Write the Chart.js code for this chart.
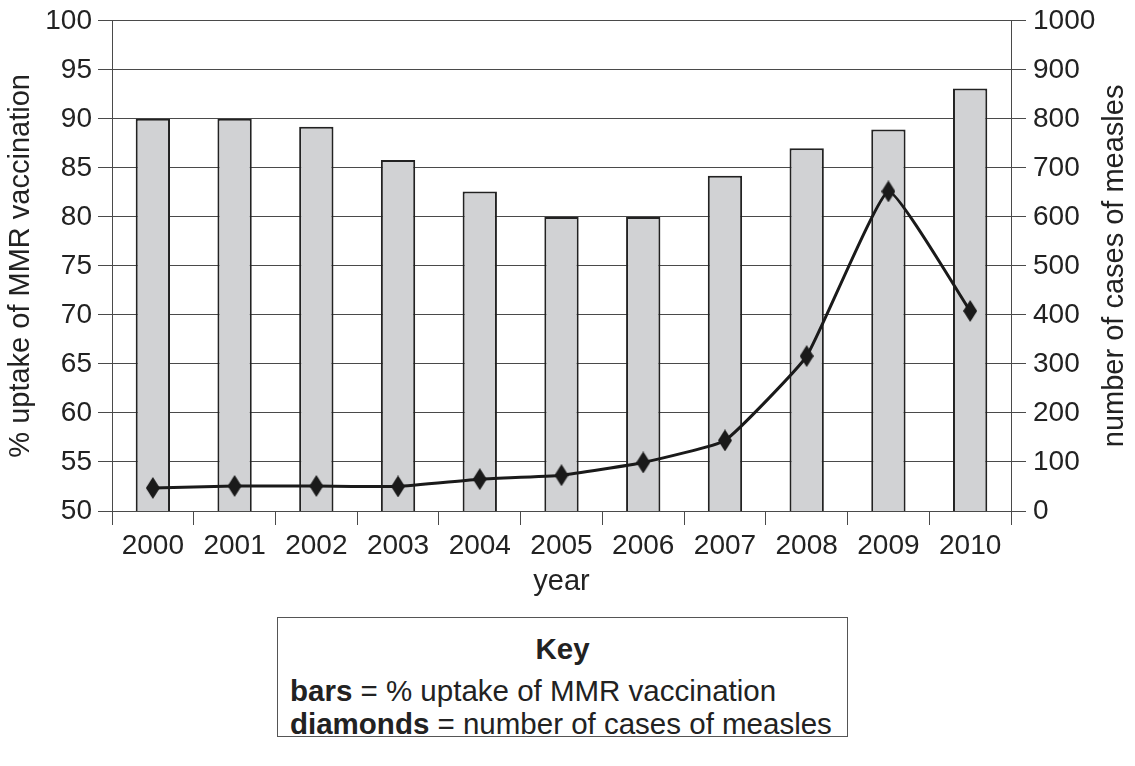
<!DOCTYPE html>
<html>
<head>
<meta charset="utf-8">
<script src="https://cdn.jsdelivr.net/npm/chart.js@4.4.0/dist/chart.umd.min.js"></script>
<style>
  body { margin: 0; background: #fff; font-family: "Liberation Sans", Arial, sans-serif; color: #222; }
  #wrap { position: absolute; left: 0; top: -3px; width: 1135px; height: 603px; }
  #key { position: absolute; left: 277px; top: 617px; width: 571px; height: 120px;
         border: 1px solid #555; box-sizing: border-box; font-size: 29.5px; line-height: 33px; padding: 14px 0 0 12px; }
  #key .t { text-align: center; font-weight: bold; margin-left: -12px; margin-bottom: 9px; }
</style>
</head>
<body>
<div id="wrap"><canvas id="grafica"></canvas></div>
<div id="key">
  <div class="t">Key</div>
  <div><b>bars</b> = % uptake of MMR vaccination</div>
  <div><b>diamonds</b> = number of cases of measles</div>
</div>
<script>
const years = ['2000', '2001', '2002', '2003', '2004', '2005', '2006', '2007', '2008', '2009', '2010'];
const uptake = [90, 90, 89.2, 85.8, 82.6, 80, 80, 84.2, 87, 88.9, 93.1];
const measles = [47, 51, 51, 50, 65, 73, 99, 144, 316, 652, 408];

const fuente = { family: '"Liberation Sans", Arial, sans-serif', size: 28 };
const fuenteTitulo = { family: '"Liberation Sans", Arial, sans-serif', size: 29 };
const gris = '#4a4a4a';

// diamante alto para los puntos
const rombo = document.createElement('canvas');
rombo.width = 14; rombo.height = 22;
const rc = rombo.getContext('2d');
rc.fillStyle = '#1a1a1a';
rc.beginPath();
rc.moveTo(7, 0); rc.lineTo(14, 11); rc.lineTo(7, 22); rc.lineTo(0, 11);
rc.closePath();
rc.fill();

// titulo del eje derecho, leido de abajo hacia arriba
const tituloDerecho = {
  id: 'tituloDerecho',
  afterDraw(chart) {
    const ctx = chart.ctx;
    const area = chart.chartArea;
    ctx.save();
    ctx.translate(1123, (area.top + area.bottom) / 2);
    ctx.rotate(-Math.PI / 2);
    ctx.font = '29px "Liberation Sans", Arial, sans-serif';
    ctx.fillStyle = '#222';
    ctx.textAlign = 'center';
    ctx.textBaseline = 'alphabetic';
    ctx.fillText('number of cases of measles', 0, 0);
    ctx.restore();
  }
};

new Chart(document.getElementById('grafica'), {
  data: {
    labels: years,
    datasets: [{
      type: 'line',
      label: 'number of cases of measles',
      data: measles,
      yAxisID: 'y1',
      borderColor: '#1a1a1a',
      borderWidth: 3,
      tension: 0.12,
      pointStyle: rombo,
      order: 0
    }, {
      type: 'bar',
      label: '% uptake of MMR vaccination',
      data: uptake,
      yAxisID: 'y',
      backgroundColor: '#d1d2d4',
      borderColor: '#222',
      borderWidth: 2,
      barPercentage: 0.42,
      categoryPercentage: 1,
      order: 1
    }]
  },
  options: {
    responsive: true,
    maintainAspectRatio: false,
    animation: false,
    layout: { padding: { top: 16, left: 0, right: 0, bottom: 0 } },
    plugins: { legend: { display: false }, tooltip: { enabled: false } },
    scales: {
      x: {
        afterFit: s => { s.height = 89; },
        grid: { offset: true, drawOnChartArea: false, color: gris, tickLength: 14 },
        border: { color: gris },
        ticks: { font: fuente, color: '#222', padding: 4, maxRotation: 0 },
        title: { display: true, text: 'year', font: fuenteTitulo, color: '#222', padding: { top: 0, bottom: 1 } }
      },
      y: {
        position: 'left',
        min: 50, max: 100,
        afterFit: s => { s.width = 112; },
        grid: { color: gris, tickLength: 14 },
        border: { color: gris },
        ticks: { stepSize: 5, font: fuente, color: '#222', padding: 6 },
        title: { display: true, text: '% uptake of MMR vaccination', font: fuenteTitulo, color: '#222', padding: { top: 4, bottom: 0 } }
      },
      y1: {
        position: 'right',
        min: 0, max: 1000,
        afterFit: s => { s.width = 124; },
        grid: { drawOnChartArea: false, color: gris, tickLength: 15 },
        border: { color: gris },
        ticks: { stepSize: 100, font: fuente, color: '#222', padding: 7, callback: v => String(v) }
      }
    }
  },
  plugins: [tituloDerecho]
});
</script>
</body>
</html>
